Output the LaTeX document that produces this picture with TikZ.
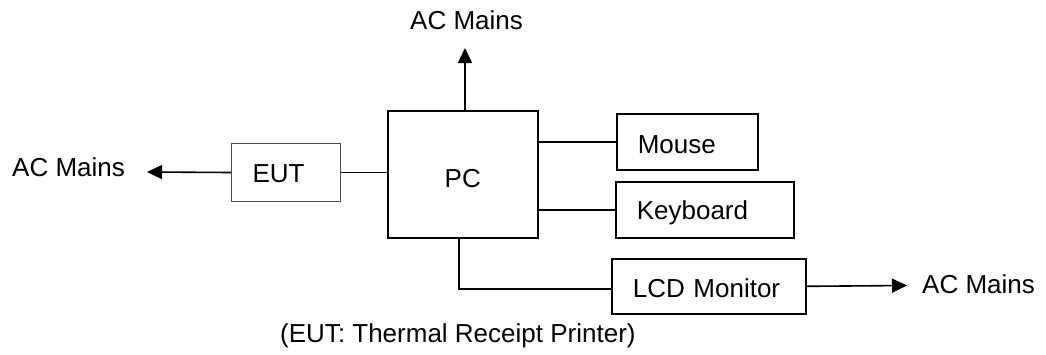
\documentclass[tikz,border=0pt]{standalone}
\usepackage{fontspec}
\setmainfont{Liberation Sans}
\usetikzlibrary{arrows.meta}
\begin{document}
\begin{tikzpicture}[x=1pt,y=-1pt,
  txt/.style={font=\fontsize{26}{30}\selectfont, inner sep=0pt},
  box/.style={draw, line width=1.6pt, inner ysep=0pt, inner xsep=21pt, align=left,
    text height=19pt, text depth=0pt, anchor=north west, font=\fontsize{26}{30}\selectfont},
  ln/.style={line width=1.6pt},
  arr/.style={line width=1.6pt, -{Triangle[length=15pt,width=14pt]}}]
\useasboundingbox (0,0) rectangle (1046,354);
% boxes
\node[box, text width=108pt, minimum height=127pt, align=center, inner xsep=21pt, text height=26pt] (PC) at (387,110) {PC};
\node[box, line width=1pt, draw=black!70, text width=67pt, minimum height=58pt] (EUT) at (231,143) {EUT};
\node[box, text width=99pt, minimum height=56pt, text height=24pt] (Mouse) at (616,113) {Mouse};
\node[box, text width=136pt, minimum height=56pt] (KB) at (615,181) {Keyboard};
\node[box, text width=152pt, minimum height=55pt, text height=22pt] (LCD) at (611,258) {LCD Monitor};
% labels
\node[txt, anchor=base west] (acl) at (12,176) {AC Mains};
\node[txt, anchor=base west] (act) at (410,29) {AC Mains};
\node[txt, anchor=base west] (acr) at (922,293) {AC Mains};
\node[txt, anchor=base west] (cap) at (280,342) {(EUT: Thermal Receipt Printer)};
% coordinates
\coordinate (tt) at (465,48);
\coordinate (tl) at (147,172);
\coordinate (tr) at (907,285.5);
\coordinate (pb) at (459,289);
% connectors
\draw[arr] (tt |- PC.north) -- (tt);
\draw[arr] (EUT.west) -- (tl);
\draw[ln] (EUT.east) -- (EUT.east -| PC.west);
\draw[ln] (Mouse.west -| PC.east) -- (Mouse.west);
\draw[ln] (KB.west -| PC.east) -- (KB.west);
\draw[ln] (pb |- PC.south) -- (pb) -- (pb -| LCD.west);
\draw[arr] (LCD.east) -- (tr);
\end{tikzpicture}
\end{document}
